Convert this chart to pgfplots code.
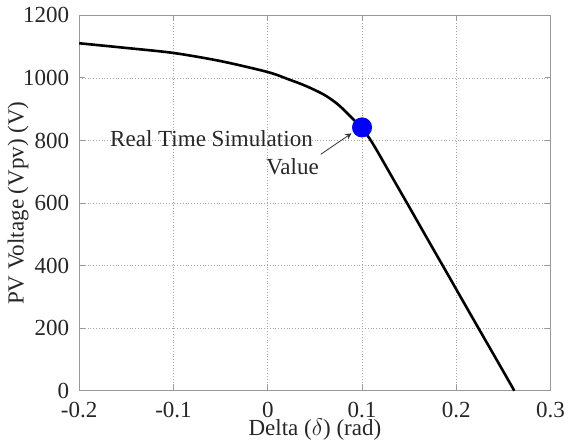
\documentclass[border=0pt]{standalone}
\usepackage{fontspec}
\setmainfont{Liberation Serif}
\usepackage{pgfplots}
\pgfplotsset{compat=1.18}
\begin{document}
\fontsize{11.5}{13}\selectfont
\begin{tikzpicture}
\begin{axis}[
  scale only axis,
  width=235.5pt, height=187.5pt,
  xmin=-0.2, xmax=0.3, ymin=0, ymax=1200,
  xtick={-0.2,-0.1,0,0.1,0.2,0.3},
  ytick={0,200,400,600,800,1000,1200},
  xticklabels={-0.2,-0.1,0,0.1,0.2,0.3},
  /pgf/number format/assume math mode=true,
  /pgf/number format/1000 sep={},
  grid=major,
  major grid style={densely dotted, gray!70, line width=0.4pt},
  axis line style={gray!80, line width=0.6pt},
  tick style={gray!80, line width=0.5pt},
  tick align=inside,
  major tick length=3pt,
  xlabel={Delta ($\delta$) (rad)},
  ylabel={PV Voltage (Vpv) (V)},
  ticklabel style={font=\fontsize{11.5}{13}\selectfont, text=black!85},
  xticklabel style={yshift=-5.3pt, inner xsep=0pt, inner ysep=0pt},
  yticklabel style={xshift=-1pt},
  label style={font=\fontsize{11.5}{13}\selectfont, text=black!85},
  xlabel style={at={(axis description cs:0.5,-0.104)}, anchor=center, inner sep=0pt},
  ylabel style={at={(axis description cs:-0.1295,0.5)}, anchor=center},
  clip=false,
]
\addplot[black, line width=1.3pt, smooth, tension=0.5] coordinates {
(-0.2,1111) (-0.15,1096) (-0.1,1080) (-0.05,1054) (0,1019) (0.02,998)
(0.04,975) (0.06,946) (0.075,914) (0.09,870) (0.1,840) (0.11,797)
(0.12,746) (0.13,693) (0.15,588) (0.17,482) (0.19,377) (0.21,271)
(0.23,166) (0.25,61) (0.2615,0)
};
\addplot[only marks, mark=*, mark size=4.8pt, color=blue, fill=blue] coordinates {(0.1,842)};
\draw[-stealth, line width=0.4pt, black!80] (axis cs:0.0562,756) -- (axis cs:0.0888,823);
\node[anchor=west, inner sep=0pt, text=black!85] at (axis cs:-0.1675,806) {Real Time Simulation};
\node[anchor=east, inner sep=0pt, text=black!85] at (axis cs:0.0545,718) {Value};
\end{axis}
\end{tikzpicture}
\end{document}
